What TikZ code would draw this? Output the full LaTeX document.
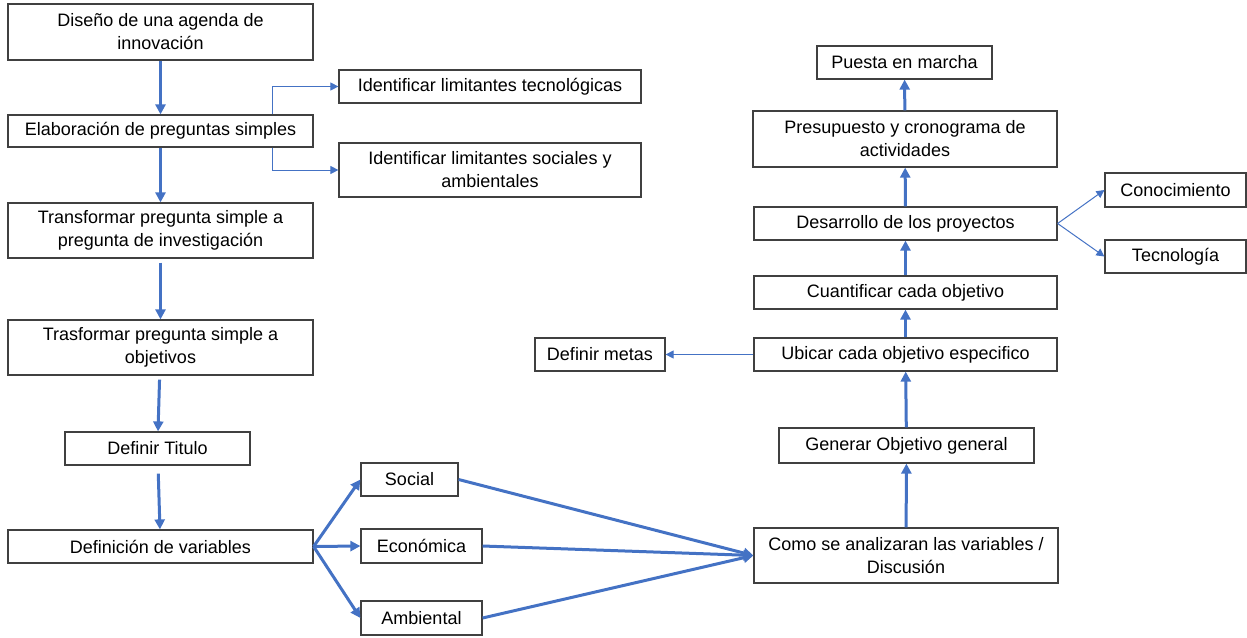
\documentclass[tikz,border=0pt]{standalone}
\usepackage{fontspec}
\setmainfont{Liberation Sans}
\usepackage{tikz}
\usetikzlibrary{arrows.meta}
\definecolor{azul}{HTML}{4472C4}
\definecolor{borde}{HTML}{404040}
\tikzset{caja/.style = {draw=borde, line width=0.6pt, align=center, inner sep=0pt,
  font=\fontsize{9}{11.5}\selectfont, text=black},
  flecha/.style = {draw=azul, line width=1.5pt, -{Triangle[length=5pt,width=5pt]}},
  fina/.style = {draw=azul, line width=0.5pt, -{Triangle[length=4pt,width=4pt]}}}

\begin{document}
\begin{tikzpicture}[x=0.5pt,y=-0.5pt]
  \useasboundingbox (0,0) rectangle (1247,637);

  \node[caja, minimum width=152.5pt, minimum height=28pt] (diseno) at (160.5,32) {Diseño de una agenda de\\innovación};
  \node[caja, minimum width=152.5pt, minimum height=16pt] (elab) at (160.5,131) {Elaboración de preguntas simples};
  \node[caja, minimum width=151pt, minimum height=16.5pt] (tecno) at (490,86.5) {Identificar limitantes tecnológicas};
  \node[caja, minimum width=151pt, minimum height=27pt] (socamb) at (490,170) {Identificar limitantes sociales y\\ambientales};
  \node[caja, minimum width=152.5pt, minimum height=27.5pt] (transf) at (160.5,230.5) {Transformar pregunta simple a\\pregunta de investigación};
  \node[caja, minimum width=152.5pt, minimum height=27.5pt] (trasf) at (160.5,347.5) {Trasformar pregunta simple a\\objetivos};
  \node[caja, minimum width=92.5pt, minimum height=16.5pt] (titulo) at (157.5,448.5) {Definir Titulo};
  \node[caja, minimum width=152.5pt, minimum height=16.5pt] (defvar) at (160.5,546.5) {Definición de variables};

  \node[caja, minimum width=48.5pt, minimum height=16.5pt] (social) at (409.5,479.5) {Social};
  \node[caja, minimum width=60.5pt, minimum height=17pt] (econ) at (421.5,546) {Económica};
  \node[caja, minimum width=60.5pt, minimum height=17pt] (amb) at (421.5,618) {Ambiental};

  \node[caja, minimum width=152pt, minimum height=27.5pt] (como) at (906,555.5) {Como se analizaran las variables /\\Discusión};
  \node[caja, minimum width=127.5pt, minimum height=17.5pt] (generar) at (906.5,445.5) {Generar Objetivo general};
  \node[caja, minimum width=151.5pt, minimum height=16.5pt] (ubicar) at (905.5,354.5) {Ubicar cada objetivo especifico};
  \node[caja, minimum width=65pt, minimum height=16.5pt] (metas) at (600,354.5) {Definir metas};
  \node[caja, minimum width=151.5pt, minimum height=16.5pt] (cuant) at (905.5,292.5) {Cuantificar cada objetivo};
  \node[caja, minimum width=151.5pt, minimum height=16.5pt] (desar) at (905.5,223.5) {Desarrollo de los proyectos};
  \node[caja, minimum width=70.5pt, minimum height=17pt] (conoc) at (1175.5,190) {Conocimiento};
  \node[caja, minimum width=70.5pt, minimum height=16.5pt] (tecnol) at (1175.5,256.5) {Tecnología};
  \node[caja, minimum width=152pt, minimum height=28pt] (presu) at (905,139) {Presupuesto y cronograma de\\actividades};
  \node[caja, minimum width=87.5pt, minimum height=16.5pt] (puesta) at (904.5,62.5) {Puesta en marcha};

  \coordinate (quiebre) at (272,131);

  \draw[flecha] (diseno) -- (elab);
  \draw[flecha] (elab) -- (transf);
  \draw[flecha, shorten <=2pt] (transf) -- (trasf);
  \draw[flecha, shorten <=2pt] (trasf) -- (titulo);
  \draw[flecha, shorten <=4pt] (titulo) -- (defvar);

  \draw[fina] (quiebre |- elab.north) |- (tecno.west);
  \draw[fina] (quiebre |- elab.south) |- (socamb.west);

  \draw[flecha] (defvar.east) -- (social.west);
  \draw[flecha] (defvar.east) -- (econ.west);
  \draw[flecha] (defvar.east) -- (amb.west);
  \draw[flecha] (social.east) -- (como.west);
  \draw[flecha] (econ.east) -- (como.west);
  \draw[flecha] (amb.east) -- (como.west);

  \draw[flecha] (como) -- (generar);
  \draw[flecha] (generar) -- (ubicar);
  \draw[flecha] (ubicar) -- (cuant);
  \draw[flecha] (cuant) -- (desar);
  \draw[flecha] (desar) -- (presu);
  \draw[flecha] (presu) -- (puesta);

  \draw[fina] (ubicar) -- (metas);
  \draw[fina] (desar.east) -- (conoc.west);
  \draw[fina] (desar.east) -- (tecnol.west);
\end{tikzpicture}
\end{document}
